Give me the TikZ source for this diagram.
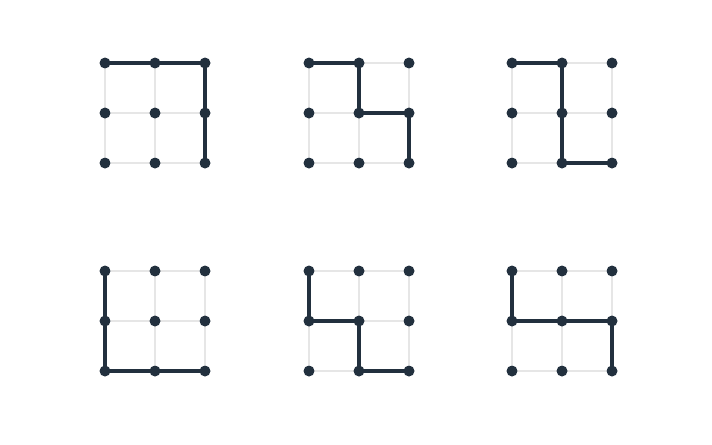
\documentclass[tikz,border=0pt]{standalone}
\usetikzlibrary{backgrounds}

\definecolor{navy}{HTML}{22303E}
\definecolor{gridgray}{HTML}{E6E6E6}

% 3x3 lattice of dots named #1ij, top left corner at (#2,#3)
\newcommand{\dotgrid}[3]{%
  \foreach \i in {0,1,2} {
    \foreach \j in {0,1,2} {
      \node[dot] (#1\i\j) at (#2+50*\i,#3+50*\j) {};
    }
  }
  \begin{pgfonlayer}{background}
    \foreach \k in {0,1,2} {
      \draw[gridline] (#1\k0) -- (#1\k2);
      \draw[gridline] (#10\k) -- (#12\k);
    }
  \end{pgfonlayer}
}

\begin{document}
\begin{tikzpicture}[x=0.02cm, y=-0.02cm,
  dot/.style={circle, fill=navy, inner sep=0pt, minimum size=0.22cm},
  gridline/.style={draw=gridgray, line width=1.1pt},
  route/.style={draw=navy, line width=2.3pt, line join=round, line cap=round}]

\useasboundingbox (0,0) rectangle (712,444);

% ===============================================================
% Top row
% ===============================================================

\dotgrid{a}{105}{63}
\dotgrid{b}{309}{63}
\dotgrid{c}{512}{63}

% ===============================================================
% Bottom row
% ===============================================================

\dotgrid{d}{105}{271}
\dotgrid{e}{309}{271}
\dotgrid{f}{512}{271}

% paths through the lattices
\begin{pgfonlayer}{background}
\draw[route] (a00.center) -- (a10.center) -- (a20.center) -- (a21.center) -- (a22.center);
\draw[route] (b00.center) -- (b10.center) -- (b11.center) -- (b21.center) -- (b22.center);
\draw[route] (c00.center) -- (c10.center) -- (c11.center) -- (c12.center) -- (c22.center);

\draw[route] (d00.center) -- (d01.center) -- (d02.center) -- (d12.center) -- (d22.center);
\draw[route] (e00.center) -- (e01.center) -- (e11.center) -- (e12.center) -- (e22.center);
\draw[route] (f00.center) -- (f01.center) -- (f11.center) -- (f21.center) -- (f22.center);
\end{pgfonlayer}

\end{tikzpicture}
\end{document}
